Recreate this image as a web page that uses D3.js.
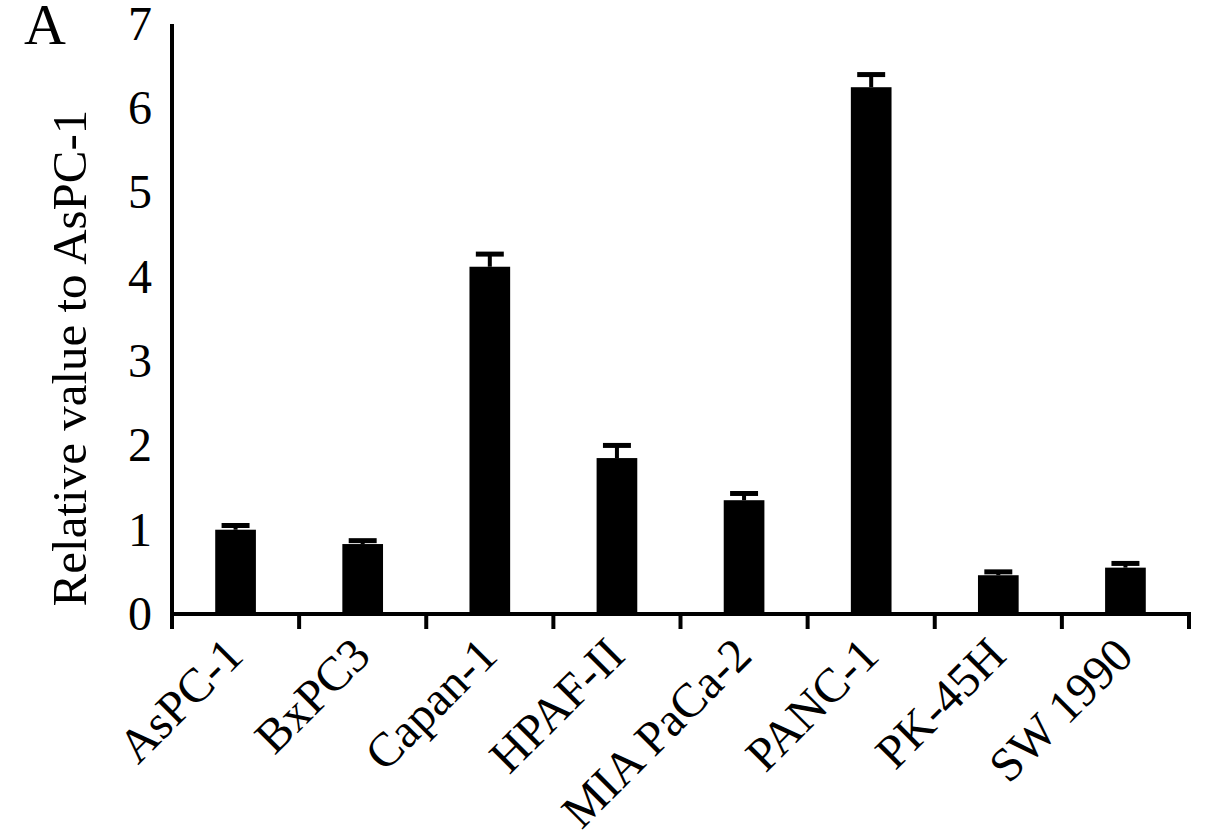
<!DOCTYPE html>
<html>
<head>
<meta charset="utf-8">
<script src="https://cdn.jsdelivr.net/npm/d3@7"></script>
<style>
  body { margin: 0; background: #fff; }
  text { font-family: "Liberation Serif", "Times New Roman", serif; fill: #000; }
</style>
</head>
<body>
<div id="chart"></div>
<script>
// cell lines and relative values
var cellLines = ["AsPC-1", "BxPC3", "Capan-1", "HPAF-II", "MIA PaCa-2", "PANC-1", "PK-45H", "SW 1990"];
var relValues = [1.0, 0.83, 4.12, 1.85, 1.35, 6.25, 0.46, 0.55];
var errValues = [0.05, 0.04, 0.15, 0.15, 0.08, 0.15, 0.04, 0.05];
var yTicks = [0, 1, 2, 3, 4, 5, 6, 7];

var width = 1205, height = 839;
var margin = { top: 24, right: 16, bottom: 225, left: 172 };

var svg = d3.select("#chart").append("svg")
  .attr("width", width)
  .attr("height", height);

var x = d3.scaleBand()
  .domain(cellLines)
  .range([margin.left, width - margin.right])
  .padding(0);

var y = d3.scaleLinear()
  .domain([0, 7])
  .range([height - margin.bottom, margin.top]);

var barW = x.bandwidth() * 0.32;
var capW = x.bandwidth() * 0.22;

// bars
svg.selectAll("rect.bar")
  .data(relValues)
  .enter().append("rect")
  .attr("class", "bar")
  .attr("x", function (d, i) { return x(cellLines[i]) + x.bandwidth() / 2 - barW / 2; })
  .attr("y", function (d) { return y(d); })
  .attr("width", barW)
  .attr("height", function (d) { return y(0) - y(d); })
  .attr("fill", "#000");

// error bars (upper only)
var err = svg.append("g").attr("stroke", "#000");
err.selectAll("line.stem")
  .data(relValues)
  .enter().append("line")
  .attr("x1", function (d, i) { return x(cellLines[i]) + x.bandwidth() / 2; })
  .attr("x2", function (d, i) { return x(cellLines[i]) + x.bandwidth() / 2; })
  .attr("y1", function (d) { return y(d); })
  .attr("y2", function (d, i) { return y(d + errValues[i]); })
  .attr("stroke-width", 4);
err.selectAll("line.cap")
  .data(relValues)
  .enter().append("line")
  .attr("x1", function (d, i) { return x(cellLines[i]) + x.bandwidth() / 2 - capW / 2; })
  .attr("x2", function (d, i) { return x(cellLines[i]) + x.bandwidth() / 2 + capW / 2; })
  .attr("y1", function (d, i) { return y(d + errValues[i]); })
  .attr("y2", function (d, i) { return y(d + errValues[i]); })
  .attr("stroke-width", 5);

// y axis: line only, labels without tick marks
var yAxis = svg.append("g")
  .attr("transform", "translate(" + margin.left + ",0)")
  .call(d3.axisLeft(y).tickValues(yTicks).tickFormat(d3.format("d")).tickSize(0).tickPadding(20));
yAxis.select(".domain").attr("stroke-width", 4).attr("d", "M0," + (y(0) + 3) + "V" + y(7));
yAxis.selectAll("text").style("font-size", "48px");

// x axis with ticks at band edges
var xAxis = svg.append("g")
  .attr("transform", "translate(0," + y(0) + ")");
xAxis.append("line")
  .attr("x1", margin.left)
  .attr("x2", width - margin.right + 2)
  .attr("stroke", "#000")
  .attr("stroke-width", 4);
var edges = cellLines.map(function (c) { return x(c); }).concat([x(cellLines[cellLines.length - 1]) + x.bandwidth()]);
xAxis.selectAll("line.tick")
  .data(edges)
  .enter().append("line")
  .attr("x1", function (d) { return d; })
  .attr("x2", function (d) { return d; })
  .attr("y1", 0)
  .attr("y2", 15)
  .attr("stroke", "#000")
  .attr("stroke-width", 4);

xAxis.selectAll("text.lab")
  .data(cellLines)
  .enter().append("text")
  .attr("transform", function (d) {
    return "translate(" + (x(d) + x.bandwidth() / 2 + 10) + ",44) rotate(-45)";
  })
  .attr("text-anchor", "end")
  .style("font-size", "48px")
  .text(function (d) { return d; });

// y title
svg.append("text")
  .attr("transform", "translate(86,358) rotate(-90)")
  .attr("text-anchor", "middle")
  .style("font-size", "49px")
  .text("Relative value to AsPC-1");

// panel letter
svg.append("text")
  .attr("x", 24)
  .attr("y", 44)
  .style("font-size", "58px")
  .text("A");
</script>
</body>
</html>
